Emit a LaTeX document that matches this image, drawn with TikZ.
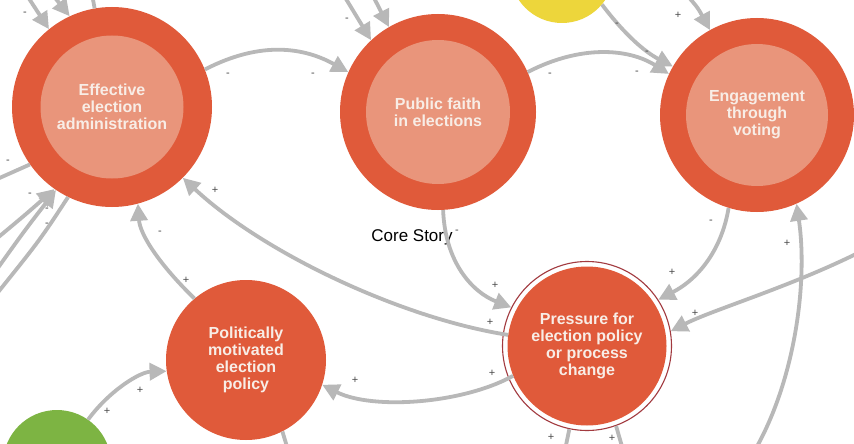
\documentclass[tikz,border=0pt]{standalone}
\usepackage{fontspec}
\setmainfont{Liberation Sans}
\usetikzlibrary{arrows.meta}
\definecolor{ored}{HTML}{E05A3A}
\definecolor{osal}{HTML}{E9957B}
\definecolor{egray}{HTML}{B8B8B8}
\definecolor{ntext}{HTML}{F8EDE6}
\definecolor{lblc}{HTML}{4A4A4A}
\definecolor{ringc}{HTML}{A23A3F}
\definecolor{yel}{HTML}{EDD63B}
\definecolor{grn}{HTML}{7DB443}
\tikzset{
 outerc/.style={circle, fill=ored, inner sep=0pt},
 innerc/.style={circle, fill=osal, inner sep=0pt, align=center, text=ntext, font=\bfseries\fontsize{16}{17}\selectfont},
 solidc/.style={circle, fill=ored, inner sep=0pt, align=center, text=ntext, font=\bfseries\fontsize{16}{17}\selectfont},
 link/.style={draw=egray, line width=3.8pt, -{Triangle[length=17pt,width=17pt]}},
 plainlink/.style={draw=egray, line width=3.8pt},
 lbl/.style={text=lblc, font=\fontsize{11}{11}\selectfont, inner sep=0pt},
}
\begin{document}
\begin{tikzpicture}[x=1pt,y=-1pt]
\useasboundingbox (0,0) rectangle (854,444);
\fill[white] (0,0) rectangle (854,444);
\clip (0,0) rectangle (854,444);

% side circles
\node[circle, fill=yel, minimum size=104pt, inner sep=0pt] (Y) at (562,-29) {};
\node[circle, fill=grn, minimum size=108pt, inner sep=0pt] (G) at (57,464) {};

% main nodes
\node[outerc, minimum size=200pt] (A) at (112,107) {};
\node[innerc, minimum size=143pt] (Ai) at (A) {Effective\\election\\administration};
\node[outerc, minimum size=196pt] (B) at (438,112) {};
\node[innerc, minimum size=144pt] (Bi) at (B) {Public faith\\in elections};
\node[outerc, minimum size=194pt] (C) at (757,115) {};
\node[innerc, minimum size=142pt] (Ci) at (C) {Engagement\\through\\voting};
\node[solidc, minimum size=160pt] (D) at (246,360) {Politically\\motivated\\election\\policy};
\node[solidc, minimum size=159pt] (Ef) at (587,346) {Pressure for\\election policy\\or process\\change};
\node[circle, draw=ringc, line width=1.1pt, minimum size=169pt, inner sep=0pt] (E) at (587,346) {};

\node[font=\fontsize{17}{17}\selectfont] (cs) at (412,237) {Core Story};

% free ends
\coordinate (ta1) at (26,-6);
\coordinate (ta2) at (52,-6);
\coordinate (ta3) at (92,-6);
\coordinate (tb1) at (343,-6);
\coordinate (tb2) at (372,-6);
\coordinate (tc1) at (686,-6);
\coordinate (la0) at (-5,180);
\coordinate (la1) at (-5,240);
\coordinate (la2) at (-5,272);
\coordinate (la3) at (-5,296);
\coordinate (re) at (860,252);
\coordinate (bc) at (755,450);
\coordinate (be1) at (565,450);
\coordinate (be2) at (623,450);
\coordinate (bd) at (288,450);

% connectors
\draw[link] (A.22) .. controls (262,40) and (305,48) .. (B.156);
\draw[link] (B.24) .. controls (580,45) and (628,48) .. (C.155);
\draw[link] (Y.-40) .. controls (625,35) and (645,52) .. (C.150);
\draw[link] (tc1) .. controls (698,8) .. (C.119);
\draw[link] (Ef.172) .. controls (400,318) and (262,252) .. (A.-45);
\draw[link] (D.130) .. controls (160,265) and (140,235) .. (A.-75);
\draw[link] (B.-87) .. controls (445,262) and (472,292) .. (E.153);
\draw[link] (C.-107) .. controls (722,248) and (700,278) .. (E.33);
\draw[link] (re) .. controls (790,287) and (712,310) .. (E.10);
\draw[link] (bc) .. controls (795,380) and (808,282) .. (C.-66);
\draw[link] (Ef.-158) .. controls (462,404) and (372,410) .. (D.-18);
\draw[link] (G.55) .. controls (110,390) and (140,372) .. (D.188);
\draw[plainlink] (E.-102) -- (be1);
\draw[plainlink] (E.-70) -- (be2);
\draw[plainlink] (D.-63) -- (bd);
\draw[link] (ta1) -- (A.129);
\draw[link] (ta2) -- (A.115);
\draw[plainlink] (ta3) -- (A.100);
\draw[link] (tb1) -- (B.133);
\draw[link] (tb2) -- (B.120);
\draw[plainlink] (la0) .. controls (12,172) .. (A.215);
\draw[link] (la1) .. controls (25,215) .. (A.235);
\draw[link] (la2) .. controls (25,230) .. (A.236);
\draw[plainlink] (A.244) .. controls (40,240) .. (la3);

% polarity labels
\node[lbl] (p1) at (228,75) {-};
\node[lbl] (p2) at (313,75) {-};
\node[lbl] (p3) at (550,75) {-};
\node[lbl] (p4) at (637,73) {-};
\node[lbl] (p5) at (617,25) {-};
\node[lbl] (p6) at (647,53) {-};
\node[lbl] (p7) at (678,15) {+};
\node[lbl] (p8) at (215,190) {+};
\node[lbl] (p9) at (490,322) {+};
\node[lbl] (p10) at (160,233) {-};
\node[lbl] (p11) at (186,280) {+};
\node[lbl] (p12) at (457,232) {-};
\node[lbl] (p13) at (495,285) {+};
\node[lbl] (p14) at (711,222) {-};
\node[lbl] (p15) at (672,272) {+};
\node[lbl] (p16) at (695,313) {+};
\node[lbl] (p17) at (787,243) {+};
\node[lbl] (p18) at (355,380) {+};
\node[lbl] (p19) at (492,373) {+};
\node[lbl] (p20) at (107,411) {+};
\node[lbl] (p21) at (140,390) {+};
\node[lbl] (p22) at (551,437) {+};
\node[lbl] (p23) at (612,438) {+};
\node[lbl] (p24) at (25,14) {-};
\node[lbl] (p25) at (347,20) {-};
\node[lbl] (p26) at (8,162) {-};
\node[lbl] (p27) at (30,195) {-};
\node[lbl] (p28) at (47,210) {-};
\node[lbl] (p29) at (47,225) {-};
\end{tikzpicture}
\end{document}
